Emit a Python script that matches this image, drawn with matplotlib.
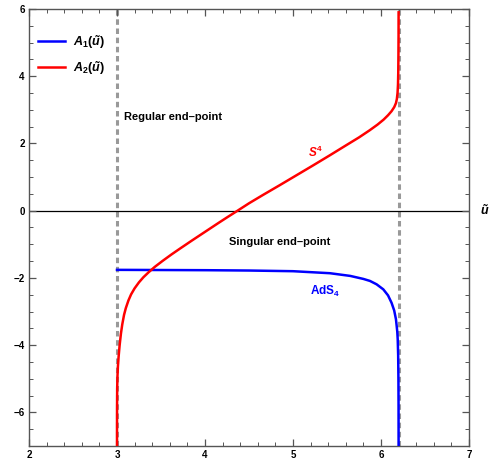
import matplotlib
matplotlib.use("Agg")
import matplotlib.pyplot as plt
from matplotlib.ticker import MultipleLocator

plt.rcParams['font.family'] = ['Liberation Sans', 'DejaVu Sans']
plt.rcParams['mathtext.fontset'] = 'custom'
plt.rcParams['mathtext.it'] = 'Liberation Sans:italic:bold'
plt.rcParams['mathtext.rm'] = 'Liberation Sans:bold'
plt.rcParams['mathtext.bf'] = 'Liberation Sans:bold'

# A1 (blue, AdS4 branch)
a1_x = [3.0, 3.5, 4.0, 4.5, 5.0, 5.42, 5.65, 5.8, 5.875, 5.95, 6.026, 6.08, 6.12,
        6.15, 6.17, 6.185, 6.19, 6.195, 6.198, 6.1995, 6.2]
a1_y = [-1.76, -1.765, -1.77, -1.78, -1.80, -1.86, -1.94, -2.03, -2.09, -2.19, -2.34,
        -2.52, -2.74, -2.97, -3.23, -3.6, -3.83, -4.3, -5.0, -5.8, -7.0]

# A2 (red, S4 branch)
a2_x = [3.0, 3.0001, 3.0005, 3.002, 3.005, 3.01, 3.018, 3.03, 3.045, 3.06, 3.08,
        3.10, 3.13, 3.16, 3.20, 3.25, 3.30, 3.36, 3.43, 3.52, 3.62, 3.72, 3.85, 4.0,
        4.15, 4.25, 4.37, 4.5, 4.66, 4.85, 5.04, 5.23, 5.42, 5.60, 5.75, 5.87, 5.96,
        6.03, 6.08, 6.12, 6.15, 6.17, 6.18, 6.188, 6.193, 6.196, 6.198, 6.1995, 6.2]
a2_y = [-7.0, -6.5, -5.9, -5.3, -4.95, -4.65, -4.35, -4.0, -3.65, -3.38, -3.10,
        -2.90, -2.67, -2.49, -2.31, -2.13, -1.98, -1.83, -1.67, -1.49, -1.30, -1.12,
        -0.89, -0.63, -0.37, -0.2, 0.0, 0.22, 0.47, 0.76, 1.055, 1.35, 1.65, 1.94,
        2.18, 2.39, 2.56, 2.71, 2.84, 2.96, 3.08, 3.2, 3.32, 3.5, 3.75, 4.1, 4.6,
        5.2, 5.9]

endpoints = [3.0, 6.2]
x_ticks = [2, 3, 4, 5, 6, 7]
y_ticks = [-6, -4, -2, 0, 2, 4, 6]

fig = plt.figure(figsize=(4.97, 4.66), dpi=100)
ax = fig.add_axes([29/497, 1 - 446/466, (469-29)/497, (446-9)/466])

for xe in endpoints:
    ax.axvline(xe, color='#999999', lw=2.2, ls=(0, (1.8, 1.2)), zorder=1)
ax.axhline(0, color='black', lw=0.9, zorder=1)

ax.plot(a1_x, a1_y, color='#0000ff', lw=1.8, label=r'$A_1(\tilde{u})$', zorder=3)
ax.plot(a2_x, a2_y, color='#ff0000', lw=1.8, label=r'$A_2(\tilde{u})$', zorder=3)

ax.set_xlim(2, 7)
ax.set_ylim(-7, 6)
ax.set_xticks(x_ticks)
ax.set_yticks(y_ticks)
ax.xaxis.set_minor_locator(MultipleLocator(0.2))
ax.yaxis.set_minor_locator(MultipleLocator(0.5))
ax.tick_params(which='both', direction='in', top=True, right=True, color='#555555',
               labelsize=7, pad=3)
ax.tick_params(which='major', length=5, width=0.9)
ax.tick_params(which='minor', length=3, width=0.7)
for lab in ax.get_xticklabels() + ax.get_yticklabels():
    lab.set_fontweight('bold')
for s in ax.spines.values():
    s.set_color('#555555')
    s.set_linewidth(1.0)

ax.text(3.08, 2.78, 'Regular end\u2013point', fontsize=8, fontweight='bold', va='center', ha='left')
ax.text(4.85, -0.93, 'Singular end\u2013point', fontsize=8, fontweight='bold', va='center', ha='center')
ax.text(5.26, 1.73, r'$S^4$', color='#ff0000', fontsize=8.5, va='center', ha='center')
ax.text(5.36, -2.39, r'$\mathrm{AdS}_4$', color='#0000ff', fontsize=8.5, va='center', ha='center')
ax.text(7.18, 0.0, r'$\tilde{u}$', fontsize=9, va='center', ha='center', clip_on=False)

leg = ax.legend(loc='upper left', bbox_to_anchor=(0.0, 0.965), frameon=False, fontsize=9,
                handlelength=2.2, handletextpad=0.6, labelspacing=0.65, borderaxespad=0.3)

fig.savefig('out.png', dpi=100)
